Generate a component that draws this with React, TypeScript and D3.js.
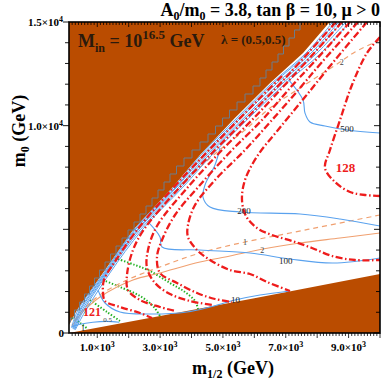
import React from 'react';
import * as d3 from 'd3';

// frame
const W = 382;
const H = 384;
const PL = 69, PR = 380, PT = 22, PB = 333;

// axes
const xDomain = [100, 10000];
const yDomain = [0, 15000];
const xTickVals = [1000, 3000, 5000, 7000, 9000];
const xTickText = ['1.0', '3.0', '5.0', '7.0', '9.0'];
const yTickVals = [0, 10000, 15000];
const yTickText = ['0', '1.0', '1.5'];

// excluded regions (m1/2, m0 in GeV)
const upperBoundary = [
  [8400, 15000], [7550, 13500], [6500, 12060], [5380, 10370], [4270, 8590],
  [3410, 7040], [2140, 4970], [1180, 2890], [355, 1110], [100, 390],
];
const lowerWedge = [[100, 0], [3000, 820], [6000, 1680], [10000, 2850]];
const greyEdge = [
  [7549, 15000], [7358, 14614], [7199, 14228], [7008, 13842], [6849, 13456],
  [6658, 13070], [6467, 12684], [6276, 12299], [6085, 11913], [5830, 11527],
  [5576, 11141], [5321, 10755], [5098, 10369], [4875, 9984], [4652, 9598],
  [4398, 9212], [4143, 8826], [3888, 8440], [3633, 8054], [3411, 7669],
  [3220, 7283], [3029, 6897], [2838, 6511], [2647, 6125], [2456, 5739],
  [2265, 5354], [2074, 4968], [1883, 4582], [1692, 4196], [1501, 3810],
  [1342, 3424], [1151, 3038], [991, 2653], [832, 2267], [673, 1881],
  [514, 1495], [355, 1109], [196, 723], [100, 531],
];

// thin blue contours hugging the boundary
const band1 = [[8495, 15000], [7645, 13500], [6565, 12060], [5445, 10370], [4300, 8590], [3440, 7040], [2170, 4970], [1210, 2890], [385, 1110], [180, 250]];
const band2 = [[8590, 15000], [7710, 13500], [6625, 12060], [5505, 10370], [4365, 8590], [3505, 7040], [2205, 4970], [1245, 2890], [420, 1060], [220, 220]];
const band3 = [[8685, 15000], [7805, 13500], [6725, 12060], [5570, 10370], [4430, 8590], [3535, 7040], [2265, 4970], [1275, 2890], [450, 1050], [240, 200]];
const band4 = [[8780, 15000], [7900, 13500], [6820, 12060], [5665, 10370], [4495, 8590], [3600, 7040], [2300, 4970], [1310, 2890], [480, 1000], [260, 180]];
const band5 = [[8910, 15000], [7995, 13500], [6915, 12060], [5730, 10370], [4555, 8590], [3665, 7040], [2360, 4970], [1340, 2890], [510, 950], [280, 160]];
const band6 = [[9035, 15000], [8125, 13500], [7010, 12060], [5825, 10370], [4650, 8590], [3730, 7040], [2425, 4970], [1400, 2890], [560, 900], [300, 150]];
const bandLines = [band1, band2, band3, band4, band5, band6];

// labelled blue contours
const blue500 = [[7100, 12200], [7549, 11238], [7612, 10610], [7771, 10177], [8249, 9984], [8950, 9791], [10000, 9646]];
const blue200 = [[4906, 8923], [4747, 8103], [4429, 7138], [4365, 6559], [4588, 6077], [5543, 5836], [7453, 5739], [8726, 5498], [10000, 5161]];
const blue100 = [[2615, 5354], [2997, 4630], [3060, 4148], [4270, 4003], [5861, 3858], [7135, 3569], [8503, 3376], [10000, 3617]];
const blue10 = [[1023, 2074], [1246, 1447], [1723, 1013], [2678, 916], [3856, 1013], [4588, 1254], [5384, 1592], [6180, 1833], [7135, 2026]];
const blue1 = [[196, 300], [450, 420], [860, 520], [1300, 560], [1700, 520]];
const blueLines = [blue500, blue200, blue100, blue10, blue1];

// Higgs mass contours (red)
const red121 = [[6880, 12395], [6117, 11238], [4557, 8826], [3443, 7042], [2265, 4968], [1596, 3521], [1214, 2556], [1182, 1977], [1246, 1543], [1723, 1254], [2360, 965], [2742, 723]];
const red122 = [[8599, 15000], [7453, 13070], [6690, 11816], [5702, 10273], [4748, 8826], [3633, 7042], [2519, 5064], [2137, 4003], [1946, 2797], [1978, 2074], [2360, 1592], [2997, 1254], [3474, 1061]];
const red123 = [[8790, 15000], [7644, 13070], [6880, 11816], [5925, 10273], [4970, 8826], [3888, 7042], [2901, 5161], [2615, 4003], [2583, 3135], [2838, 2412], [3315, 1881], [3952, 1543], [4652, 1350]];
const red124 = [[9045, 15000], [7899, 13070], [7135, 11816], [6244, 10273], [5289, 8826], [4270, 7138], [3474, 5691], [3061, 4485], [2901, 3665], [2997, 2894], [3538, 2412], [4175, 1929], [4748, 1640], [5289, 1495]];
const red125 = [[9299, 15000], [8154, 13070], [7453, 11816], [6562, 10273], [5702, 8826], [4748, 7379], [4111, 6173], [3888, 5209], [3888, 4630], [4175, 4003], [4588, 3521], [5225, 3038], [5862, 2846], [6403, 2460], [7135, 2026]];
const red126 = [[9586, 15000], [8567, 13167], [7612, 11382], [6753, 9791], [6117, 8585], [5702, 7379], [5607, 6415], [5734, 5643], [6085, 5064], [6562, 4727], [7199, 4437], [7835, 4100], [8472, 3714], [9204, 3521], [10000, 3521]];
const red128 = [[10000, 14276], [9586, 13504], [9108, 11961], [8727, 10273], [8408, 8826], [8249, 7958], [8567, 7283], [9045, 6800], [9523, 6656], [10000, 6607]];
const redLines = [red121, red122, red123, red124, red125, red126, red128];

// orange contours
const orangeDash1 = [[10000, 5691], [8408, 5209], [7135, 4823], [5702, 4389], [4270, 3858], [2997, 3183], [1946, 2556], [1087, 1833], [450, 965], [196, 386]];
const orangeDash2 = [[10000, 14131], [9204, 13553], [8727, 13070], [7453, 11816], [6498, 10852], [5702, 9791], [4970, 8923], [4270, 8006], [3633, 7138]];
const orangeSolid2 = [[10000, 4823], [8727, 4582], [7453, 4341], [6275, 4051], [5225, 3714], [4270, 3424], [2997, 2894], [2137, 2556], [1087, 1736], [450, 868], [196, 338]];

// green dotted contours
const green1 = [[1564, 3617], [2201, 3280], [2678, 2990], [3315, 2412], [3793, 1977], [4111, 1543], [4207, 1158]];
const green2 = [[1182, 2556], [1723, 2219], [2360, 1785], [2774, 1302], [2997, 820]];
const green3 = [[768, 1592], [1310, 1013], [1723, 579]];
const green4 = [[196, 723], [450, 482], [705, 193]];
const greenLines = [green1, green2, green3, green4];

// contour labels
const contourLabels = [
  { t: '500', p: [8950, 9791], c: '#222', s: 9 },
  { t: '200', p: [5670, 5836], c: '#222', s: 9 },
  { t: '100', p: [7000, 3450], c: '#222', s: 9 },
  { t: '10', p: [5400, 1550], c: '#222', s: 9 },
  { t: '1', p: [5700, 4350], c: '#444', s: 8 },
  { t: '2', p: [6250, 3950], c: '#444', s: 8 },
  { t: '2', p: [8780, 13000], c: '#444', s: 8 },
  { t: '0.5', p: [1330, 600], c: '#444', s: 7 },
  { t: '1', p: [546, 200], c: '#222', s: 8 },
];

const BROWN = '#ba4c00';
const RED = '#ee1c1c';
const BLUE = '#5aa2ee';
const ORANGE = '#f0a070';
const GREEN = '#22b022';
const FONT = "'Liberation Serif', 'DejaVu Serif', serif";

export default function App() {
  const x = d3.scaleLinear().domain(xDomain).range([PL, PR]);
  const y = d3.scaleLinear().domain(yDomain).range([PB, PT]);
  const line = d3.line<number[]>().x(d => x(d[0])).y(d => y(d[1])).curve(d3.curveCatmullRom.alpha(0.5));
  const poly = d3.line<number[]>().x(d => x(d[0])).y(d => y(d[1]));
  const steps = d3.line<number[]>().x(d => x(d[0])).y(d => y(d[1])).curve(d3.curveStep);

  const upperPoly = [[100, 15000], ...upperBoundary, [100, 390]];
  const wedgePoly = [...lowerWedge, [10000, 0]];

  const xMinor = d3.range(200, 10001, 100);
  const yMinor = d3.range(0, 15001, 1000);

  return (
    <svg width={W} height={H} style={{ position: 'absolute', left: 0, top: 0, background: '#fff' }} fontFamily={FONT}>
      <defs>
        <clipPath id="plot"><rect x={PL} y={PT} width={PR - PL} height={PB - PT} /></clipPath>
      </defs>
      <g clipPath="url(#plot)">
        <rect x={PL} y={PT} width={PR - PL} height={PB - PT} fill="#fff" />
        <path d={poly(upperPoly) + 'Z'} fill={BROWN} />
        <path d={poly(wedgePoly) + 'Z'} fill={BROWN} />
        {greenLines.map((g, i) => (
          <path key={'g' + i} d={line(g)!} fill="none" stroke={GREEN} strokeWidth={2} strokeDasharray="1.4,1.8" />
        ))}
        <path d={line(orangeDash1)!} fill="none" stroke={ORANGE} strokeWidth={1.2} strokeDasharray="5,4" />
        <path d={line(orangeDash2)!} fill="none" stroke={ORANGE} strokeWidth={1.2} strokeDasharray="5,4" />
        <path d={line(orangeSolid2)!} fill="none" stroke={ORANGE} strokeWidth={1.1} />
        {bandLines.map((b, i) => (
          <path key={'b' + i} d={line(b)!} fill="none" stroke={BLUE} strokeWidth={1} />
        ))}
        {blueLines.map((b, i) => (
          <path key={'l' + i} d={line(b)!} fill="none" stroke={BLUE} strokeWidth={1.1} />
        ))}
        {redLines.map((r, i) => (
          <path key={'r' + i} d={line(r)!} fill="none" stroke={RED} strokeWidth={2.3} strokeDasharray="7,2.5,1.5,2.5" />
        ))}
        <path d={steps(greyEdge)!} fill="none" stroke="#6b7d8c" strokeWidth={1} />
        {contourLabels.map((l, i) => (
          <text key={'t' + i} x={x(l.p[0])} y={y(l.p[1])} fontSize={l.s} fill={l.c} textAnchor="middle" dominantBaseline="middle">{l.t}</text>
        ))}
        <text x={x(8900)} y={y(7750)} fontSize={13} fontWeight="bold" fill={RED} textAnchor="middle">128</text>
        <text x={x(832)} y={y(820)} fontSize={12} fontWeight="bold" fill={RED} textAnchor="middle">121</text>
      </g>

      {/* frame */}
      <rect x={PL} y={PT} width={PR - PL} height={PB - PT} fill="none" stroke="#000" strokeWidth={1.6} />

      {/* ticks */}
      {xMinor.map(v => (
        <g key={'xm' + v}>
          <line x1={x(v)} x2={x(v)} y1={PB} y2={PB + (v % 1000 === 0 ? 5 : 3)} stroke="#000" strokeWidth={0.8} />
          <line x1={x(v)} x2={x(v)} y1={PT} y2={PT + (v % 1000 === 0 ? 5 : 3)} stroke="#000" strokeWidth={0.8} />
        </g>
      ))}
      {yMinor.map(v => (
        <g key={'ym' + v}>
          <line x1={PL} x2={PL - (v % 5000 === 0 ? 6 : 4)} y1={y(v)} y2={y(v)} stroke="#000" strokeWidth={0.9} />
          <line x1={PR} x2={PR - (v % 5000 === 0 ? 6 : 4)} y1={y(v)} y2={y(v)} stroke="#000" strokeWidth={0.9} />
        </g>
      ))}

      {/* tick labels */}
      {xTickVals.map((v, i) => (
        <text key={'xl' + v} x={x(v)} y={351} fontSize={11} fontWeight="bold" textAnchor="middle">
          {xTickText[i]}×10<tspan dy={-4} fontSize={8}>3</tspan>
        </text>
      ))}
      {yTickVals.map((v, i) => (
        <text key={'yl' + v} x={v === 0 ? 64 : 63} y={y(v) + 4} fontSize={11} fontWeight="bold" textAnchor="end">
          {v === 0 ? '0' : <>{yTickText[i]}×10<tspan dy={-4} fontSize={8}>4</tspan></>}
        </text>
      ))}

      {/* axis titles */}
      <text x={233} y={374} fontSize={18} fontWeight="bold" textAnchor="middle">
        m<tspan dy={4} fontSize={12}>1/2</tspan><tspan dy={-4}> (GeV)</tspan>
      </text>
      <text transform="translate(25,131) rotate(-90)" fontSize={18} fontWeight="bold" textAnchor="middle">
        m<tspan dy={4} fontSize={12}>0</tspan><tspan dy={-4}> (GeV)</tspan>
      </text>

      {/* title and annotations */}
      <text x={380} y={16} fontSize={18} fontWeight="bold" textAnchor="end">
        A<tspan dy={4} fontSize={12}>0</tspan><tspan dy={-4}>/m</tspan><tspan dy={4} fontSize={12}>0</tspan><tspan dy={-4}> = 3.8, tan β = 10, μ &gt; 0</tspan>
      </text>
      <text x={78} y={47} fontSize={18} fontWeight="bold" fill="#2a1a0c">
        M<tspan dy={5} fontSize={12}>in</tspan><tspan dy={-5}> = 10</tspan><tspan dy={-8} fontSize={13}>16.5</tspan><tspan dy={8}> GeV</tspan>
      </text>
      <text x={221} y={44} fontSize={13} fontWeight="bold" fill="#2a1a0c">λ = (0.5,0.5)</text>
    </svg>
  );
}
